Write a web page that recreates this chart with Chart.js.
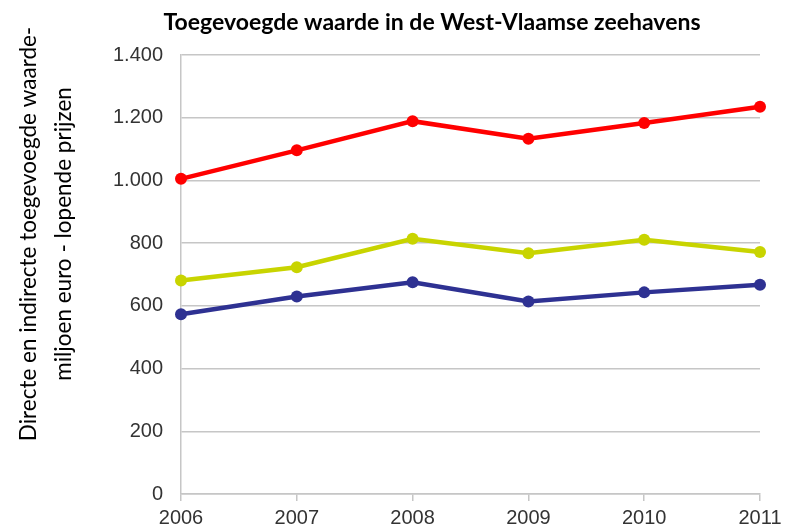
<!DOCTYPE html>
<html>
<head>
<meta charset="utf-8">
<script src="https://cdn.jsdelivr.net/npm/chart.js@4"></script>
<style>
  html, body { margin: 0; padding: 0; background: #fff; }
  #wrap { width: 794px; height: 530px; }
</style>
</head>
<body>
<div id="wrap"><canvas id="chart" width="794" height="530"></canvas></div>
<script>
var years = ['2006', '2007', '2008', '2009', '2010', '2011'];
var serieRood = [1005, 1096, 1189, 1133, 1183, 1235];
var serieGeel = [681, 723, 814, 768, 811, 772];
var serieBlauw = [573, 630, 675, 614, 643, 667];
var yTicks = [0, 200, 400, 600, 800, 1000, 1200, 1400];

var chartTitle = 'Toegevoegde waarde in de West-Vlaamse zeehavens';
var yTitle = ['Directe en indirecte toegevoegde waarde-', 'miljoen euro - lopende prijzen'];

var gridGrey = '#c6c6c6';
var tickFont = { family: '"Liberation Sans", Arial, sans-serif', size: 20 };

function formatThousands(v) {
    return String(v).replace(/\B(?=(\d{3})+(?!\d))/g, '.');
}

function serie(label, data, color) {
    return {
        label: label,
        data: data,
        borderColor: color,
        backgroundColor: color,
        borderWidth: 4.5,
        pointRadius: 6,
        pointHoverRadius: 6,
        pointBorderWidth: 0,
        tension: 0
    };
}

// titles are drawn by hand so they can sit off-centre like the original
var titlesPlugin = {
    id: 'titles',
    afterDraw: function (chart) {
        var ctx = chart.ctx;
        ctx.save();
        ctx.fillStyle = '#000';
        ctx.font = 'bold 23px Lato, "Noto Sans", sans-serif';
        ctx.textAlign = 'center';
        ctx.textBaseline = 'alphabetic';
        ctx.fillText(chartTitle, 432, 30);

        ctx.font = '22.5px Lato, "Noto Sans", sans-serif';
        ctx.translate(0, 234);
        ctx.rotate(-Math.PI / 2);
        ctx.fillText(yTitle[0], 0, 36);
        ctx.fillText(yTitle[1], 0, 71);
        ctx.restore();
    }
};

new Chart(document.getElementById('chart'), {
    type: 'line',
    data: {
        labels: years,
        datasets: [
            serie('Reeks 1', serieRood, '#ff0000'),
            serie('Reeks 2', serieGeel, '#c8d400'),
            serie('Reeks 3', serieBlauw, '#2e3192')
        ]
    },
    options: {
        responsive: false,
        animation: false,
        layout: { padding: { top: 55, right: 34, bottom: 0, left: 0 } },
        plugins: {
            legend: { display: false },
            title: { display: false },
            tooltip: { enabled: false }
        },
        scales: {
            x: {
                offset: false,
                grid: { drawOnChartArea: false, drawTicks: true, tickLength: 7, color: gridGrey, lineWidth: 1.5 },
                border: { display: true, color: gridGrey, width: 1.5 },
                ticks: { font: tickFont, color: '#333333', padding: 5, maxRotation: 0, autoSkip: false },
                afterFit: function (axis) { axis.height = 36; }
            },
            y: {
                min: 0,
                max: 1400,
                afterBuildTicks: function (axis) {
                    axis.ticks = yTicks.map(function (v) { return { value: v }; });
                },
                grid: { drawTicks: false, color: gridGrey, lineWidth: 1.5 },
                border: { display: true, color: gridGrey, width: 1.5 },
                ticks: {
                    font: tickFont,
                    color: '#333333',
                    padding: 18,
                    callback: function (v) { return formatThousands(v); }
                },
                afterFit: function (axis) { axis.width = 181; }
            }
        }
    },
    plugins: [titlesPlugin]
});
</script>
</body>
</html>
